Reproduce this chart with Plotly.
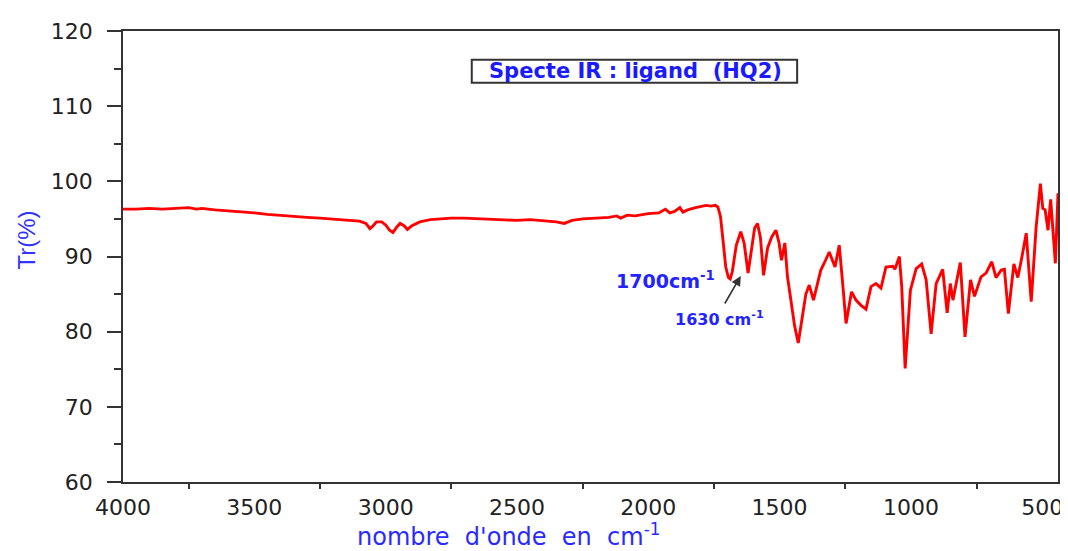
import plotly.graph_objects as go

wavenumber = [4000, 3950, 3900, 3850, 3800, 3750, 3720, 3700, 3650, 3600, 3550, 3500, 3450, 3400,
              3350, 3300, 3250, 3200, 3150, 3100, 3075, 3060, 3050, 3035, 3015, 3000, 2985, 2972,
              2958, 2945, 2930, 2917, 2900, 2870, 2830, 2800, 2750, 2700, 2650, 2600, 2550, 2500,
              2450, 2400, 2350, 2320, 2290, 2250, 2200, 2150, 2120, 2105, 2080, 2050, 2000, 1960,
              1935, 1918, 1900, 1880, 1868, 1850, 1820, 1800, 1780, 1760, 1745, 1735, 1725, 1715,
              1705, 1695, 1688, 1680, 1665, 1648, 1635, 1620, 1608, 1595, 1584, 1573, 1561, 1546,
              1530, 1514, 1502, 1493, 1480, 1470, 1457, 1443, 1429, 1415, 1400, 1387, 1371, 1355,
              1343, 1325, 1311, 1289, 1273, 1260, 1247, 1226, 1209, 1190, 1171, 1152, 1133, 1114,
              1095, 1069, 1061, 1044, 1035, 1022, 1010, 1002, 980, 959, 942, 923, 904, 879, 862,
              850, 840, 812, 794, 773, 758, 745, 733, 714, 692, 676, 656, 644, 629, 608, 593, 577,
              561, 542, 523, 507, 498, 489, 478, 468, 450, 440]

transmittance = [96.3, 96.3, 96.4, 96.3, 96.4, 96.5, 96.3, 96.4, 96.2, 96.1, 95.9, 95.8, 95.6, 95.5,
                 95.3, 95.2, 95.1, 95.0, 94.9, 94.7, 94.4, 93.7, 94.0, 94.6, 94.6, 94.2, 93.5, 93.2,
                 93.9, 94.4, 94.1, 93.6, 94.1, 94.6, 94.9, 95.0, 95.1, 95.1, 95.0, 94.9, 94.8, 94.8,
                 94.9, 94.8, 94.6, 94.4, 94.8, 95.0, 95.1, 95.2, 95.4, 95.1, 95.5, 95.4, 95.7, 95.8,
                 96.3, 95.8, 96.0, 96.5, 95.9, 96.2, 96.5, 96.6, 96.8, 96.7, 96.8, 96.6, 95.3, 92.0,
                 88.6, 87.2, 87.0, 88.0, 91.5, 93.3, 91.8, 87.8, 90.5, 93.8, 94.4, 92.5, 87.5, 91.1,
                 92.6, 93.5, 91.8, 89.5, 91.8, 87.3, 84.2, 80.8, 78.5, 81.5, 85.0, 86.2, 84.2, 86.5,
                 88.2, 89.5, 90.6, 88.6, 91.5, 86.5, 81.1, 85.3, 84.2, 83.5, 83.0, 86.0, 86.4, 85.8,
                 88.6, 88.7, 88.3, 90.0, 86.0, 75.1, 81.0, 85.5, 88.4, 89.0, 86.9, 79.7, 86.4, 88.3, 82.5,
                 86.4, 84.2, 89.2, 79.3, 86.9, 84.7, 86.2, 87.3, 87.8, 89.3, 87.2, 88.2, 88.3, 82.4,
                 89.0, 87.2, 90.0, 93.1, 84.0, 94.0, 99.7, 96.4, 96.2, 93.5, 97.6, 89.1, 98.4]

x_ticks = [4000, 3500, 3000, 2500, 2000, 1500, 1000, 500]
x_minor = [3750, 3250, 2750, 2250, 1750, 1250, 750]
y_ticks = [60, 70, 80, 90, 100, 110, 120]

fig = go.Figure()
fig.add_trace(go.Scatter(x=wavenumber, y=transmittance, mode="lines",
                         line=dict(color="#ff0000", width=2.9), showlegend=False,
                         hoverinfo="skip"))

axis_col = "#333333"
tick_font = dict(family="DejaVu Sans", size=22, color="#222222")

# the page body adds an 8px offset, so the figure is sized 8px smaller
fig.update_layout(
    width=1060, height=543,
    margin=dict(l=115, r=10, t=23, b=69),
    paper_bgcolor="white", plot_bgcolor="white",
    xaxis=dict(range=[4000, 440], tickvals=x_ticks, ticktext=[str(v) for v in x_ticks],
               ticks="outside", ticklen=0, tickfont=tick_font, showgrid=False, zeroline=False,
               showline=True, linecolor=axis_col, linewidth=1.5, mirror=True,
               ticklabelstandoff=5, automargin=False,
               minor=dict(tickvals=x_minor, ticks="outside", ticklen=5, tickcolor=axis_col,
                          tickwidth=1.5)),
    yaxis=dict(range=[60, 120], tickvals=y_ticks, ticks="outside", ticklen=14,
               tickcolor=axis_col, tickwidth=1.5, tickfont=tick_font, showgrid=False,
               zeroline=False, showline=True, linecolor=axis_col, linewidth=1.5, mirror=True,
               ticklabelstandoff=10, automargin=False,
               minor=dict(dtick=5, ticks="outside", ticklen=7, tickcolor=axis_col,
                          tickwidth=1.5)),
)

# title box
fig.add_shape(type="rect", xref="paper", yref="paper", x0=0.373, x1=0.721, y0=0.885, y1=0.936,
              line=dict(color="#333333", width=2), fillcolor="white", layer="above")
fig.add_annotation(xref="paper", yref="paper", x=0.548, y=0.911, xanchor="center",
                   yanchor="middle", showarrow=False,
                   text="Specte IR : ligand\u00a0 (HQ2)",
                   font=dict(family="DejaVu Sans", size=21, color="#1a1aff", weight="bold"))

# peak labels
fig.add_annotation(x=1739, y=86.9, xref="x", yref="y", xanchor="right", yanchor="middle",
                   showarrow=False, text="1700cm<sup>-1</sup>",
                   font=dict(family="DejaVu Sans", size=19, color="#2323ff", weight="bold"))
fig.add_annotation(x=1553, y=81.8, xref="x", yref="y", xanchor="right", yanchor="middle",
                   showarrow=False, text="1630 cm<sup>-1</sup>",
                   font=dict(family="DejaVu Sans", size=16, color="#2323ff", weight="bold"))
fig.add_annotation(x=1648, y=87.4, ax=1712, ay=83.55, xref="x", yref="y", axref="x", ayref="y",
                   showarrow=True, arrowhead=2, arrowsize=1.2, arrowwidth=1.6,
                   arrowcolor="#333333", text="")

# axis titles
fig.add_annotation(xref="paper", yref="paper", x=-0.103, y=0.537, xanchor="center",
                   yanchor="middle", textangle=-90, showarrow=False, text="Tr(%)",
                   font=dict(family="Liberation Sans", size=24, color="#3333ff"))
fig.add_annotation(xref="paper", yref="paper", x=0.412, y=-0.118, xanchor="center",
                   yanchor="middle", showarrow=False,
                   text="nombre\u00a0 d'onde\u00a0 en\u00a0 cm<sup>-1</sup>",
                   font=dict(family="DejaVu Sans", size=24, color="#2a2aff"))

fig.write_html("out.html")
